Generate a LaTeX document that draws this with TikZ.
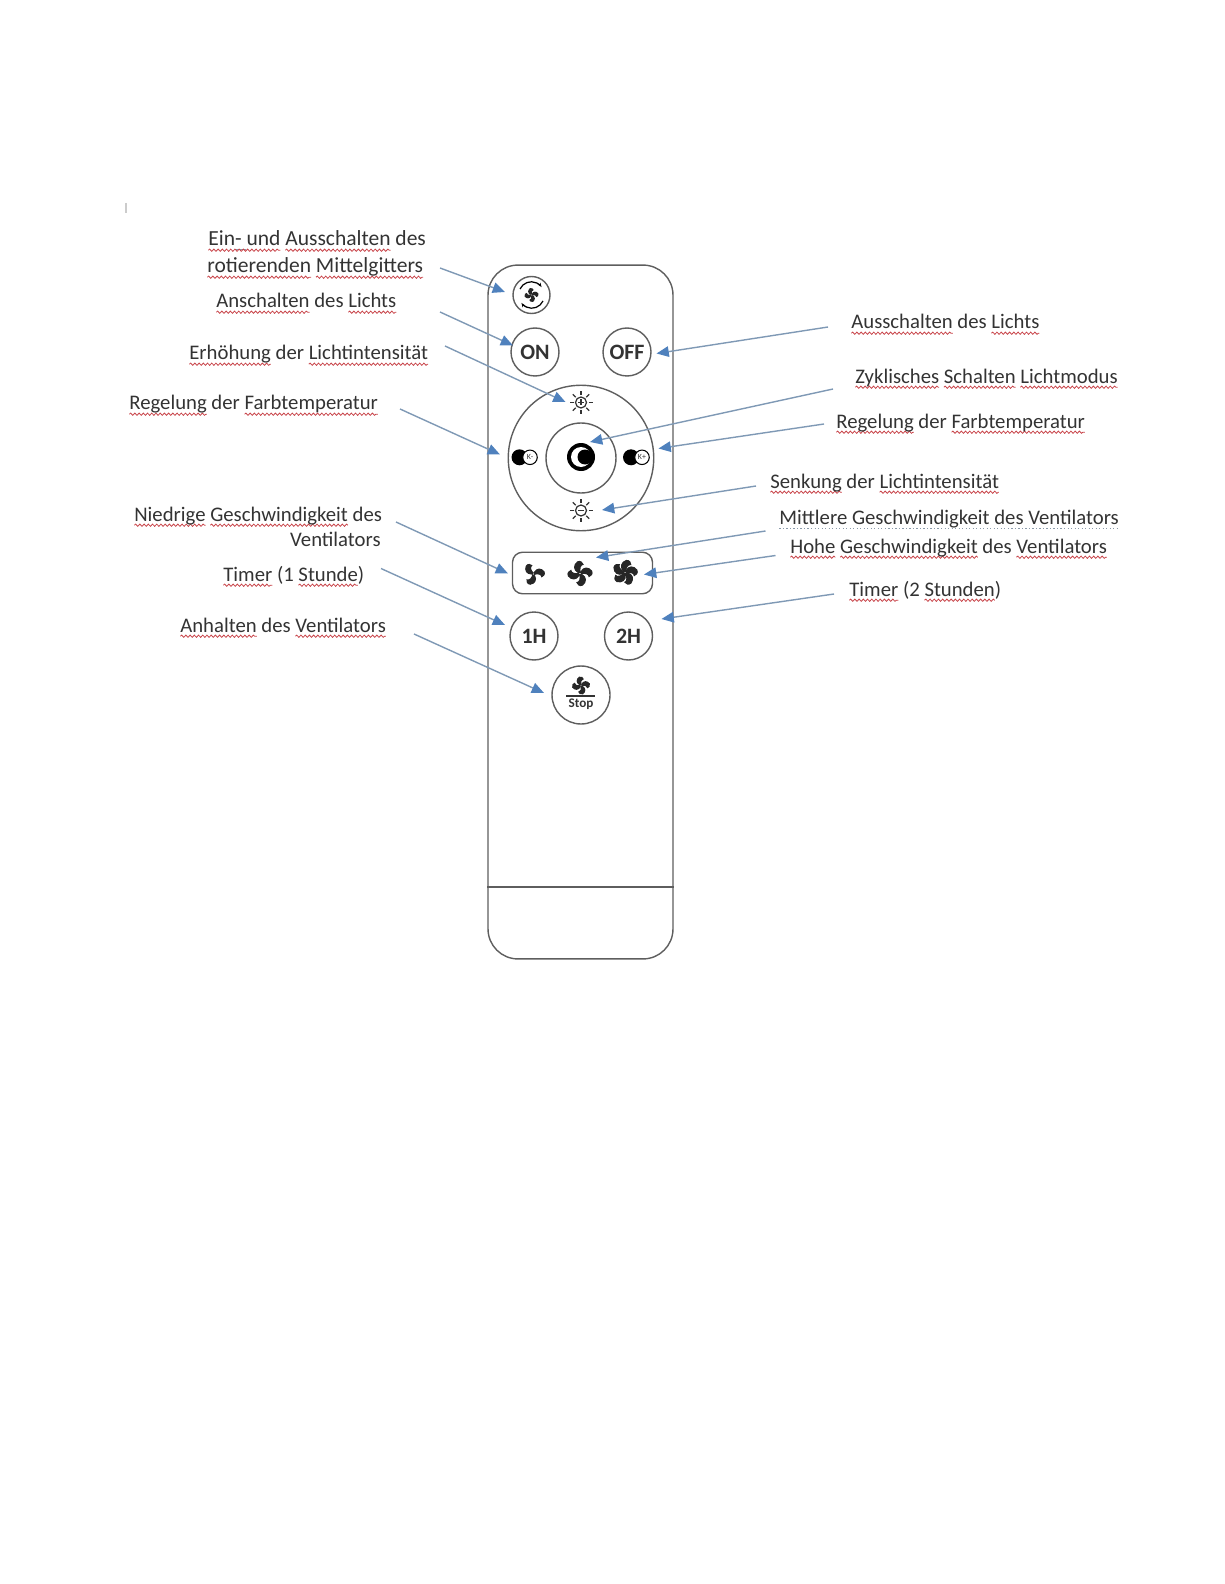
\documentclass[tikz,border=0pt]{standalone}
\usepackage{fontspec}
\setmainfont{Carlito}
\usetikzlibrary{arrows.meta, decorations.pathmorphing}
\definecolor{ink}{HTML}{333333}
\definecolor{outline}{HTML}{5E5E5E}
\definecolor{pointer}{HTML}{4F81BD}
\definecolor{shaft}{HTML}{7F99B5}
\definecolor{spellred}{HTML}{C8444A}
\definecolor{grammar}{HTML}{8A9AAA}
\newsavebox{\wordbox}
\newlength{\wordlen}
\newcommand{\wavy}[1]{\leavevmode\sbox{\wordbox}{#1}\setlength{\wordlen}{\wd\wordbox}%
  \rlap{\tikz[overlay, x=1pt, y=1pt, baseline=0pt]\draw[spellred, line width=0.45pt, decorate,
    decoration={snake, amplitude=0.65pt, segment length=2.4pt}] (0,-2.4) -- (\the\wordlen,-2.4);}%
  \usebox{\wordbox}}
\newcommand{\dotty}[1]{\leavevmode\sbox{\wordbox}{#1}\setlength{\wordlen}{\wd\wordbox}%
  \rlap{\tikz[overlay, x=1pt, y=1pt, baseline=0pt]\draw[grammar, line width=0.5pt,
    dash pattern=on 0.7pt off 1.3pt] (0,-2.4) -- (\the\wordlen,-2.4);}%
  \usebox{\wordbox}}

\begin{document}
\begin{tikzpicture}[
  x=0.02cm, y=-0.02cm,
  label/.style={anchor=base west, inner sep=0pt, font=\fontsize{11.8}{14}\selectfont, text=ink},
  toplabel/.style={label, font=\fontsize{12.25}{14}\selectfont},
  callout/.style={draw=shaft, line width=0.8pt, -{Triangle[length=7pt, width=6pt, color=pointer]}},
  shell/.style={draw=outline, line width=0.8pt},
  roundbtn/.style={circle, shell, minimum size=0.96cm, inner sep=0pt, text=ink,
                   font=\fontsize{12.5}{14}\selectfont\bfseries},
  toggle/.style={circle, draw=black, fill=white, line width=0.6pt, minimum size=0.29cm, inner sep=0pt,
                 text=ink, font=\fontsize{4.5}{4}\selectfont},
  pics/fan/.style={code={
    \foreach \n in {1,...,#1}
      \fill[black!85, rotate=\n*360/#1] (0.5,-2) .. controls (3,-6.5) and (8,-6.5) .. (11,-2.5)
        .. controls (12.5,0.5) and (10,3) .. (8,3.5) .. controls (8,0.5) and (4,-0.5) .. (0.5,1) -- cycle;
  }},
  pics/sun/.style={code={
    \draw[ink, line width=0.7pt] (0,0) circle (5.5);
    \foreach \a in {0,45,...,315}
      \draw[ink, line width=0.7pt, rotate=\a] (7.5,0) -- (11.5,0);
  }},
]
\useasboundingbox (0,0) rectangle (1224,1584);

% stray marks
\draw[gray!40, line width=0.6pt] (126,203) -- (126,213);
\draw[grammar, line width=0.5pt] (235,249) -- (246,249);

% labels on the left
\node[toplabel] (lRotaryA) at (208,246) {\wavy{Ein- und} \wavy{Ausschalten} des};
\node[toplabel] (lRotaryB) at (207,273) {\wavy{rotierenden} \wavy{Mittelgitters}};
\node[label] (lOn) at (216,308) {\wavy{Anschalten} des \wavy{Lichts}};
\node[label] (lUp) at (189,360) {\wavy{Erhöhung} der \wavy{Lichtintensität}};
\node[label] (lKminus) at (129,410) {\wavy{Regelung} der \wavy{Farbtemperatur}};
\node[label] (lLowA) at (134,521) {\wavy{Niedrige} \wavy{Geschwindigkeit} des};
\node[label, anchor=base east] (lLowB) at (381,546) {Ventilators};
\node[label] (lOneH) at (223,581) {\wavy{Timer} (1 \wavy{Stunde})};
\node[label] (lStop) at (180,632) {\wavy{Anhalten} des \wavy{Ventilators}};

% labels on the right
\node[label] (lOff) at (851,329) {\wavy{Ausschalten} des \wavy{Lichts}};
\node[label] (lMode) at (855,383) {\wavy{Zyklisches} \wavy{Schalten} \wavy{Lichtmodus}};
\node[label] (lKplus) at (836,428) {\wavy{Regelung} der \wavy{Farbtemperatur}};
\node[label] (lDown) at (770,488) {\wavy{Senkung} der \wavy{Lichtintensität}};
\node[label] (lMid) at (779,524) {\dotty{Mittlere Geschwindigkeit des Ventilators}};
\node[label] (lHigh) at (790,553) {\wavy{Hohe} \wavy{Geschwindigkeit} des \wavy{Ventilators}};
\node[label] (lTwoH) at (849,596) {\wavy{Timer} (2 \wavy{Stunden})};

% remote
\node[shell, rounded corners=0.6cm, minimum width=3.7cm, minimum height=13.88cm] (body) at (580.5,612) {};
\draw[shell] (body.west |- 0,887) -- (body.east |- 0,887);

\node[roundbtn, minimum size=0.74cm] (rotary) at (531.5,295) {};
\node[roundbtn] (on) at (535,352) {ON};
\node[roundbtn] (off) at (627,352) {OFF};
\node[circle, shell, minimum size=2.91cm] (dial) at (581,458) {};
\node[circle, shell, minimum size=1.4cm] (mode) at (581,458) {};
\node[shell, rounded corners=0.2cm, minimum width=2.8cm, minimum height=0.83cm] (speeds) at (582.5,573) {};
\node[roundbtn] (oneH) at (534,636) {1H};
\node[roundbtn] (twoH) at (628.5,636) {2H};
\node[roundbtn, minimum size=1.16cm] (stop) at (581,695) {};
\node[inner sep=0pt, text=ink, font=\fontsize{7.5}{8}\selectfont\bfseries] (stopText) at (581,704) {Stop};

% icons
\pic[scale=0.62] at (531.5,295) {fan=4};
\draw[black, line width=0.7pt, -{Stealth[length=2.5pt]}] (520,289) arc (205:325:12.5);
\draw[black, line width=0.7pt, -{Stealth[length=2.5pt]}] (543,301) arc (25:145:12.5);
\pic at (581,402.5) {sun};
\draw[ink, line width=0.6pt] (578,402.5) -- (584,402.5) (581,399.5) -- (581,405.5);
\pic at (581,510.5) {sun};
\draw[ink, line width=0.6pt] (578,510.5) -- (584,510.5);
\fill[black] (581,457) circle (14);
\fill[white] (581,457) circle (10);
\fill[black] (585,457) circle (7.5);
\fill[black] (519.5,457.3) circle (8);
\node[toggle] (kMinus) at (530,457.3) {K-};
\fill[black] (631,457.3) circle (8);
\node[toggle] (kPlus) at (642,457.3) {K+};
\pic at (533.5,574) {fan=3};
\pic[scale=1.1] at (580,573.5) {fan=4};
\pic[scale=1.12] at (625,572.5) {fan=5};
\pic[scale=0.8] at (581,685.5) {fan=4};
\draw[ink, line width=0.7pt] (566,696) -- (595,696);

% arrow ends
\coordinate (t1) at (440,268);   \coordinate (h1) at (505,292);
\coordinate (t2) at (440,312);   \coordinate (h2) at (513,345.5);
\coordinate (t3) at (445,346);   \coordinate (h3) at (565.5,402);
\coordinate (t4) at (400,409);   \coordinate (h4) at (500,454.5);
\coordinate (t5) at (396,522);   \coordinate (h5) at (508,573.5);
\coordinate (t6) at (381,568.5); \coordinate (h6) at (505,625);
\coordinate (t7) at (414,634);   \coordinate (h7) at (544,693);
\coordinate (t8) at (828,327);   \coordinate (h8) at (656.5,353.5);
\coordinate (t9) at (833,389);   \coordinate (h9) at (590,442);
\coordinate (t10) at (824,424);  \coordinate (h10) at (658.5,448.5);
\coordinate (t11) at (756,486);  \coordinate (h11) at (602,510);
\coordinate (t12) at (765.5,531);\coordinate (h12) at (596,557.5);
\coordinate (t13) at (775.5,555.5); \coordinate (h13) at (644,574.5);
\coordinate (t14) at (834,594);  \coordinate (h14) at (661.5,619);

\foreach \i in {1,...,14}
  \draw[callout] (t\i) -- (h\i);

\end{tikzpicture}
\end{document}
